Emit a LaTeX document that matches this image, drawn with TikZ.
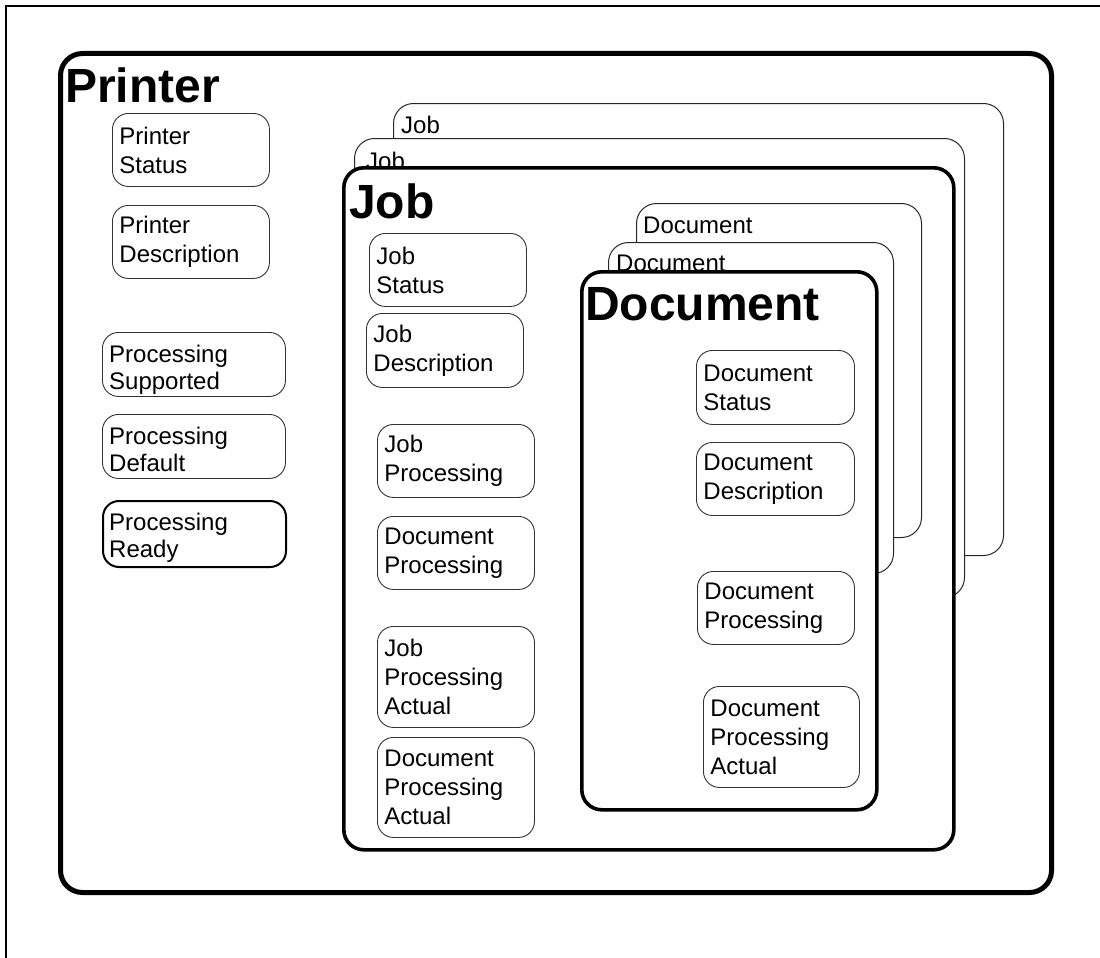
\documentclass[tikz,border=0pt]{standalone}
\usepackage{fontspec}
\setmainfont{Liberation Sans}
\begin{document}
\begin{tikzpicture}[x=1pt,y=-1pt,
  sb/.style={draw=black!80, line width=0.9pt, rounded corners=16pt, fill=white,
    anchor=north west, align=left, inner xsep=7pt, inner ysep=0pt,
    font=\fontsize{24}{29}\selectfont},
  sblow/.style={sb, label={[anchor=north west, inner sep=0pt, align=left, font=\fontsize{24}{27}\selectfont, xshift=7pt, yshift=-13pt]north west:#1}},
  bigthin/.style={draw=black!85, line width=1pt, rounded corners=20pt, fill=white,
    anchor=north west, inner sep=0pt},
  bigthick/.style={draw=black, line width=3.6pt, rounded corners=20pt, fill=white,
    anchor=north west, inner sep=0pt},
  ttl/.style={anchor=base west, inner sep=0pt, font=\fontsize{48}{56}\selectfont\bfseries},
  stl/.style={anchor=base west, inner sep=0pt, font=\fontsize{24}{29}\selectfont}]
\useasboundingbox (0,0) rectangle (1100,958);
\fill[white] (0,0) rectangle (1100,958);
% page frame
\draw[line width=1.5pt] (6,958) -- (6,6) -- (1100,6);
% Printer
\node[bigthick, line width=5pt, rounded corners=22pt, minimum width=991pt, minimum height=839pt] (printer) at (58,51) {};
\node[ttl] (printert) at (65,102) {Printer};
\node[sb, minimum width=157pt, minimum height=73pt, text width=143pt] (pstat) at (112,113) {Printer\\Status};
\node[sb, minimum width=157pt, minimum height=73pt, text width=143pt] (pdesc) at (112,205) {Printer\\Description};
\node[sblow={Processing\\Supported}, minimum width=183pt, minimum height=64pt, text width=169pt] (psup) at (102,332) {};
\node[sblow={Processing\\Default}, minimum width=183pt, minimum height=64pt, text width=169pt] (pdef) at (102,414) {};
\node[sblow={Processing\\Ready}, draw=black, line width=2pt, minimum width=183pt, minimum height=66pt, text width=169pt] (prdy) at (102,500) {};
% Job stack
\node[bigthin, minimum width=610pt, minimum height=452pt] (jobc) at (393,103) {};
\node[stl] (jobct) at (401,133) {Job};
\node[bigthin, minimum width=610pt, minimum height=459pt] (jobb) at (354,138) {};
\node[stl] (jobbt) at (366,169) {Job};
\node[bigthick, minimum width=610pt, minimum height=682pt] (joba) at (342,166) {};
\node[ttl] (jobat) at (349,218) {Job};
\node[sb, minimum width=157pt, minimum height=73pt, text width=143pt] (jstat) at (369,233) {Job\\Status};
\node[sb, minimum width=157pt, minimum height=74pt, text width=143pt] (jdesc) at (366,313) {Job\\Description};
\node[sb, minimum width=157pt, minimum height=73pt, text width=143pt] (jproc) at (377,424) {Job\\Processing};
\node[sb, minimum width=157pt, minimum height=73pt, text width=143pt] (jdproc) at (377,516) {Document\\Processing};
\node[sb, minimum width=157pt, minimum height=101pt, text width=143pt] (jpa) at (377,626) {Job\\Processing\\Actual};
\node[sb, minimum width=157pt, minimum height=100pt, text width=143pt] (jdpa) at (377,737) {Document\\Processing\\Actual};
% Document stack
\node[bigthin, minimum width=285pt, minimum height=334pt] (docc) at (636,203) {};
\node[stl] (docct) at (643,233) {Document};
\node[bigthin, minimum width=285pt, minimum height=331pt] (docb) at (608,242) {};
\node[stl] (docbt) at (616,271) {Document};
\node[bigthick, minimum width=295pt, minimum height=538pt] (doca) at (580,270) {};
\node[ttl] (docat) at (585,320) {Document};
\node[sb, minimum width=158pt, minimum height=74pt, text width=144pt] (dstat) at (696,350) {Document\\Status};
\node[sb, minimum width=158pt, minimum height=73pt, text width=144pt] (ddesc) at (696,442) {Document\\Description};
\node[sb, minimum width=157pt, minimum height=73pt, text width=143pt] (dproc) at (697,571) {Document\\Processing};
\node[sb, minimum width=156pt, minimum height=101pt, text width=142pt] (dpa) at (703,686) {Document\\Processing\\Actual};
\end{tikzpicture}
\end{document}
